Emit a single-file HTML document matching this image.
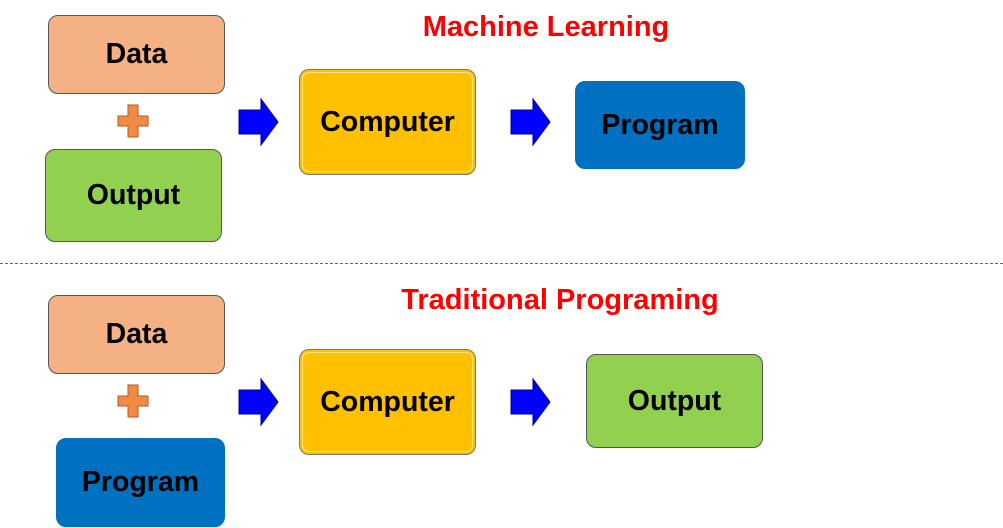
<!DOCTYPE html>
<html><head><style>
body{margin:0;width:1003px;height:528px;background:#fff;position:relative;overflow:hidden;font-family:"Liberation Sans",Arial,sans-serif;font-weight:bold}
.b{position:absolute;display:flex;align-items:center;justify-content:center;box-sizing:border-box;border:1px solid #555;border-radius:10px;font-size:28.5px;color:#000}
.d{background:#f4b183}.o{background:#92d050}.p{background:#0070c0;border-color:#0070c0}
.c{background:#ffc000;box-shadow:inset 0 0 0 2px #ffc000,inset 0 0 0 3px #ffe38a;border-color:#777}
.t{position:absolute;color:#f00;font-size:29px;white-space:nowrap;transform:translateX(-50%)}
svg{position:absolute}
</style></head><body>
<div class="t" style="left:546px;top:11px">Machine Learning</div>
<div class="t" style="left:560px;top:284px">Traditional Programing</div>
<div class="b d" style="left:48px;top:15px;width:177px;height:79px">Data</div>
<div class="b o" style="left:45px;top:149px;width:177px;height:93px">Output</div>
<div class="b c" style="left:299px;top:69px;width:177px;height:106px">Computer</div>
<div class="b p" style="left:575px;top:81px;width:170px;height:88px">Program</div>
<div class="b d" style="left:48px;top:295px;width:177px;height:79px">Data</div>
<div class="b p" style="left:56px;top:438px;width:169px;height:89px">Program</div>
<div class="b c" style="left:299px;top:349px;width:177px;height:106px">Computer</div>
<div class="b o" style="left:586px;top:354px;width:177px;height:94px">Output</div>
<div style="position:absolute;left:0;top:263px;width:1003px;border-top:1px dashed #666"></div>
<svg width="1003" height="528">
<defs><g id="pl"><path d="M10 0h10v11h10v10h-10v11h-10v-11h-10v-10h10z" fill="#f08a44" stroke="#b65a1e" stroke-width="1"/></g>
<g id="ar"><path d="M0 10h22v-11l17 23l-17 23v-11h-22z" fill="#0000ff" stroke="#00008b" stroke-width="1"/></g></defs>
<use href="#pl" x="118" y="105"/><use href="#pl" x="118" y="385"/>
<use href="#ar" x="239" y="100"/><use href="#ar" x="511" y="100"/>
<use href="#ar" x="239" y="380"/><use href="#ar" x="511" y="380"/>
</svg>
</body></html>
